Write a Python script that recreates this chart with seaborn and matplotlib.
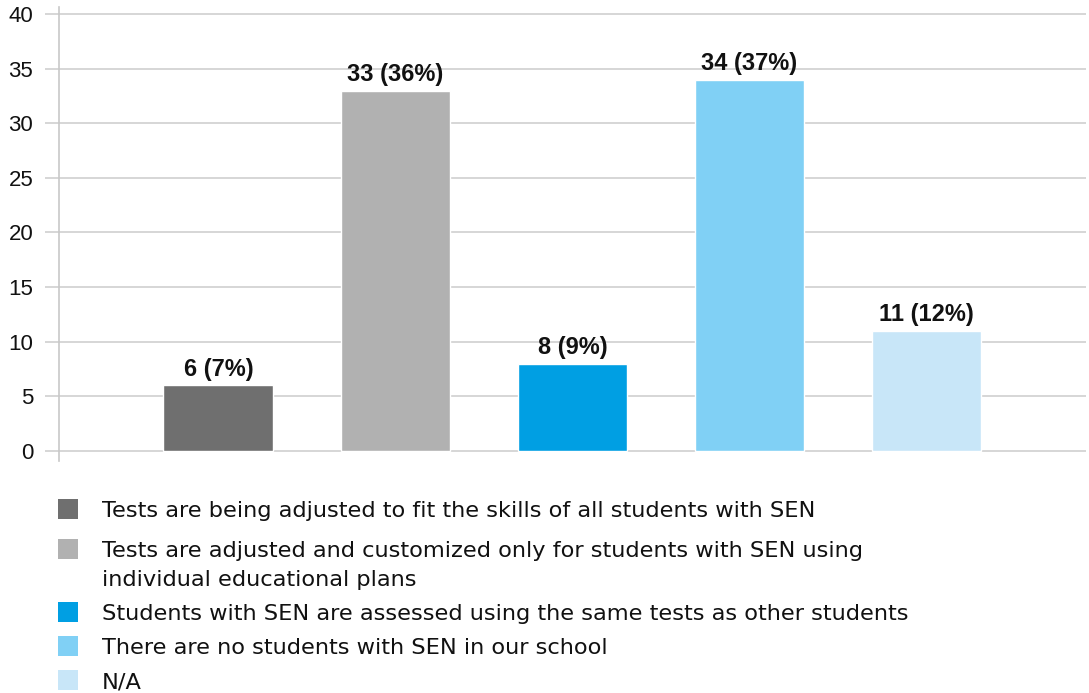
import os
import matplotlib
matplotlib.use("Agg")
import matplotlib.pyplot as plt
from matplotlib import font_manager as fm
from matplotlib.patches import Rectangle
import seaborn as sns
import pandas as pd

categories = [
    "Tests are being adjusted to fit the skills of all students with SEN",
    "Tests are adjusted and customized only for students with SEN using\nindividual educational plans",
    "Students with SEN are assessed using the same tests as other students",
    "There are no students with SEN in our school",
    "N/A",
]
counts = [6, 33, 8, 34, 11]
percents = [7, 36, 9, 37, 12]
colors = ["#6f6f6f", "#b1b1b1", "#009fe3", "#80d0f5", "#c8e6f8"]
yticks = [0, 5, 10, 15, 20, 25, 30, 35, 40]

sns.set_theme(style="white")
plt.rcParams["font.family"] = ["Liberation Sans", "DejaVu Sans"]


def font_props(filename, size, family="DejaVu Sans", weight="normal"):
    """Load a face by its file name so the regular-width cut is used."""
    paths = [f.fname for f in fm.fontManager.ttflist] + fm.findSystemFonts()
    for p in paths:
        if os.path.basename(p).lower() == filename.lower():
            return fm.FontProperties(fname=p, size=size)
    return fm.FontProperties(family=family, weight=weight, size=size)


tick_fp = font_props("LiberationSans-Regular.ttf", 16)
label_fp = font_props("LiberationSans-Bold.ttf", 17, weight="bold")
legend_fp = font_props("DejaVuSans.ttf", 16.2)

df = pd.DataFrame({"category": categories, "count": counts})

W, H = 1089, 693
fig = plt.figure(figsize=(W / 100, H / 100), dpi=100)
ax = fig.add_axes([0.0542, 0.3348, 0.943, 0.655])

sns.barplot(data=df, x="category", y="count", hue="category",
            palette=colors, saturation=1, width=0.62, legend=False, ax=ax)

for container, c, p in zip(ax.containers, counts, percents):
    ax.bar_label(container, labels=[f"{c} ({p}%)"], padding=3.5,
                 fontproperties=label_fp, color="#111111")

ax.set_xlim(-0.9, 4.9)
ax.set_ylim(-0.92, 40.64)
ax.set_yticks(yticks)
ax.set_yticklabels([str(t) for t in yticks], fontproperties=tick_fp,
                   color="#111111")
ax.set_xticks([])
ax.set_xlabel("")
ax.set_ylabel("")
ax.yaxis.grid(True, color="#d0d0d0", linewidth=1.2)
ax.set_axisbelow(True)
for s in ["top", "right", "bottom"]:
    ax.spines[s].set_visible(False)
ax.spines["left"].set_color("#c8c8c8")
ax.spines["left"].set_linewidth(1.2)
ax.tick_params(axis="y", length=10, width=1.2, color="#d0d0d0",
               pad=8.5, left=True)

# Legend below the plot: square swatch aligned with the first line of each entry
y = 509.0          # centre of the first legend line, in pixels from the top
entry_gap = 34.0
line_gap = 29.0
for i, (label, col) in enumerate(zip(categories, colors)):
    lines = label.split("\n")
    if i > 0 and len(lines) > 1:
        y += 6
    fig.patches.append(Rectangle((58 / W, 1 - (y + 10) / H), 20 / W, 20 / H,
                                 transform=fig.transFigure, facecolor=col,
                                 edgecolor="none"))
    for j, line in enumerate(lines):
        fig.text(102 / W, 1 - (y + 8) / H, line, ha="left", va="baseline",
                 fontproperties=legend_fp, color="#111111")
        if j < len(lines) - 1:
            y += line_gap
    y += entry_gap

fig.savefig("out.png", dpi=100, facecolor="white")
